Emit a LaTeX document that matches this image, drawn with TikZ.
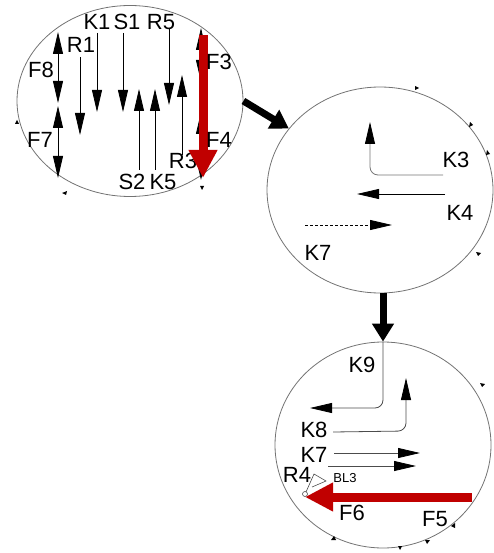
\documentclass[tikz,border=0pt]{standalone}
\usepackage{fontspec}
\setmainfont{Liberation Sans}
\usetikzlibrary{arrows.meta,shapes.geometric}
\definecolor{darkred}{RGB}{192,0,0}

\begin{document}
\begin{tikzpicture}[x=1pt,y=-1pt,
    state/.style={ellipse,draw=black!55,line width=0.8pt,inner sep=0pt},
    lbl/.style={inner sep=0pt,font=\fontsize{22}{24}\selectfont},
    sml/.style={inner sep=0pt,font=\fontsize{13}{15}\selectfont},
    sig/.style={line width=0.8pt,-{Triangle[length=22pt,width=10pt,black]}},
    dsig/.style={line width=0.8pt,{Triangle[length=22pt,width=10pt]}-{Triangle[length=22pt,width=10pt]}},
    force/.style={darkred,line width=9pt,-{Triangle[length=28pt,width=27pt]}},
    flow/.style={line width=7pt,-{Triangle[length=18pt,width=21pt]}},
    tick/.style={fill=black}]
    \useasboundingbox (0,0) rectangle (493,553);

    %states
    \node [state,minimum width=226pt,minimum height=191pt] (c1) at (130,101) {};
    \node [state,minimum width=226pt,minimum height=206pt] (c2) at (380,190) {};
    \node [state,minimum width=216pt,minimum height=206pt] (c3) at (383,445) {};

    %transitions
    \draw[flow] (c1.east) -- (c2.146);
    \draw[flow] (c3.north |- c2.south) -- (c3.north);

    %ticks on the borders
    \fill[tick] (62,193) -- ++(5,-2) -- ++(-1,4) -- cycle;
    \fill[tick] (202,190) -- ++(-2,-4) -- ++(4,0) -- cycle;
    \fill[tick] (17,120) -- ++(-2,4) -- ++(4,0) -- cycle;
    \fill[tick] (415,86) -- ++(0,4) -- ++(4,-2) -- cycle;
    \fill[tick] (470,122) -- ++(-1,5) -- ++(4,-2) -- cycle;
    \fill[tick] (487,150) -- ++(-1,5) -- ++(4,-1) -- cycle;
    \fill[tick] (476,252) -- ++(5,1) -- ++(-3,3) -- cycle;
    \fill[tick] (480,383) -- ++(5,1) -- ++(-3,3) -- cycle;
    \fill[tick] (451,526) -- ++(4,-3) -- ++(0,5) -- cycle;
    \fill[tick] (334,536) -- ++(-3,4) -- ++(5,0) -- cycle;
    \fill[tick] (425,540) -- ++(5,0) -- ++(-3,4) -- cycle;
    \fill[tick] (398,546) -- ++(4,0) -- ++(-2,4) -- cycle;

    %state 1
    \draw[dsig] (58,32) -- (58,103);
    \draw[dsig] (58,106) -- (58,178);
    \node [lbl] (f8) at (41,70) {F8};
    \node [lbl] (f7) at (40,140) {F7};
    \draw[sig] (80,57) -- (80,135);
    \node [lbl] (r1) at (81,45) {R1};
    \draw[sig] (97,33) -- (97,112);
    \node [lbl] (k1) at (97,22) {K1};
    \draw[sig] (123,33) -- (123,112);
    \node [lbl] (s1) at (127,22) {S1};
    \draw[sig] (169,28) -- (169,105);
    \node [lbl] (r5) at (161,22) {R5};
    \draw[sig] (139,170) -- (139,89);
    \node [lbl] (s2) at (132,182) {S2};
    \draw[sig] (155,170) -- (155,89);
    \node [lbl] (k5) at (163,182) {K5};
    \draw[sig] (182,155) -- (182,75);
    \node [lbl] (r3) at (183,161) {R3};
    \draw[dsig] (201,28) -- (201,82);
    \draw[dsig] (201,112) -- (201,180);
    \draw[force] (203,35) -- (203,178);
    \node [lbl] (f3) at (219,62) {F3};
    \node [lbl] (f4) at (219,140) {F4};

    %state 2
    \draw[sig,black!55,rounded corners=8pt] (443,175) -- (370,175) -- (370,122);
    \node [lbl] (k3) at (456,160) {K3};
    \draw[sig] (445,194) -- (357,194);
    \node [lbl] (k4) at (460,213) {K4};
    \draw[sig,densely dashed] (305,225) -- (392,225);
    \node [lbl] (k7a) at (318,253) {K7};

    %state 3
    \draw[sig,black!70,rounded corners=8pt] (c3.north) -- (383,408) -- (310,408);
    \node [lbl] (k9) at (362,365) {K9};
    \draw[sig,black!70,rounded corners=8pt] (333,432) -- (406,431) -- (406,378);
    \node [lbl] (k8) at (314,430) {K8};
    \draw[sig,black!70] (334,453) -- (420,453);
    \draw[sig,black!70] (328,466) -- (416,466);
    \node [lbl] (k7b) at (314,455) {K7};
    \node [lbl] (r4) at (297,475) {R4};
    \draw[black!70,line width=0.6pt] (305,494) circle (2.5pt);
    \draw[black!70,line width=0.6pt] (306,492) -- (314,474) -- (326,481) -- (312,487);
    \node [sml] (bl3) at (345,478) {BL3};
    \draw[line width=0.8pt] (470,497) -- (310,497);
    \draw[force] (472,497) -- (305,497);
    \node [lbl] (f6) at (352,513) {F6};
    \node [lbl] (f5) at (435,519) {F5};
\end{tikzpicture}
\end{document}
